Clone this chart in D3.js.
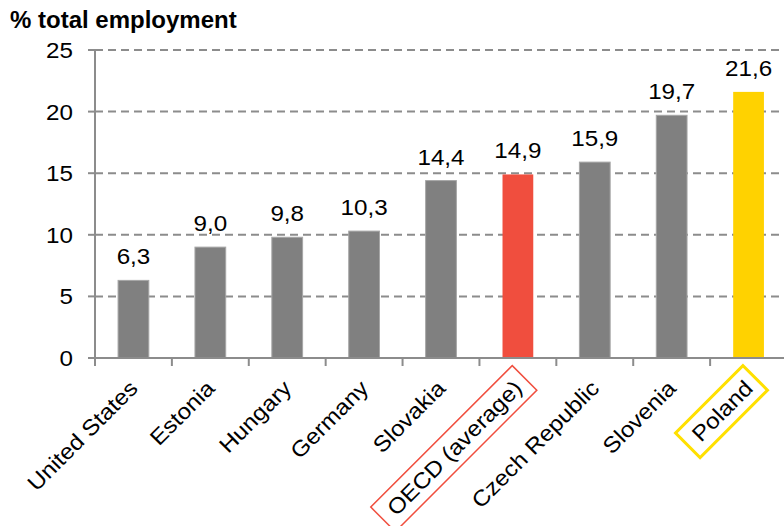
<!DOCTYPE html>
<html>
<head>
<meta charset="utf-8">
<script src="https://cdn.jsdelivr.net/npm/d3@7"></script>
<style>
body{margin:0;background:#fff;}
text{font-family:"Liberation Sans",Arial,sans-serif;}
</style>
</head>
<body>
<svg id="chart" width="784" height="526"></svg>
<script>
var countries = ['United States','Estonia','Hungary','Germany','Slovakia','OECD (average)','Czech Republic','Slovenia','Poland'];
var shares = [6.3, 9.0, 9.8, 10.3, 14.4, 14.9, 15.9, 19.7, 21.6];
var yTicks = [0, 5, 10, 15, 20, 25];
var highlight = {'OECD (average)':'#f04e3e', 'Poland':'#ffd200'};

var svg = d3.select('#chart');
var plotLeft = 95, plotBottom = 358, plotTop = 50, plotRight = 787;
var fs = 22, sx = 1.1;   // text in the original is a bit wider than Arial

var x = d3.scaleBand().domain(countries).range([plotLeft, plotRight]).paddingInner(0.6).paddingOuter(0.3);
var y = d3.scaleLinear().domain([0, 25]).range([plotBottom, plotTop]);
var step = x.step();

// grid
svg.append('g').selectAll('line').data(yTicks.filter(function(d){return d>0}))
  .enter().append('line')
  .attr('x1', plotLeft).attr('x2', 784)
  .attr('y1', function(d){return y(d)}).attr('y2', function(d){return y(d)})
  .attr('stroke', '#8c8c8c').attr('stroke-width', 2).attr('stroke-dasharray', '8,5');

// y ticks
svg.append('g').selectAll('text').data(yTicks).enter().append('text')
  .attr('transform', function(d){return 'translate(73,' + (y(d)+8) + ') scale(' + sx + ',1)'})
  .attr('text-anchor', 'end').attr('font-size', fs).attr('fill', '#000')
  .text(function(d){return d});
svg.append('g').selectAll('line').data(yTicks).enter().append('line')
  .attr('x1', 88).attr('x2', plotLeft)
  .attr('y1', function(d){return y(d)}).attr('y2', function(d){return y(d)})
  .attr('stroke', '#8c8c8c').attr('stroke-width', 2);

// bars
svg.append('g').selectAll('rect').data(countries).enter().append('rect')
  .attr('x', function(d){return x(d)})
  .attr('width', x.bandwidth())
  .attr('y', function(d,i){return y(shares[i])})
  .attr('height', function(d,i){return plotBottom - y(shares[i])})
  .attr('fill', function(d){return highlight[d] || '#808080'})
  .attr('stroke', function(d){return highlight[d] ? 'none' : '#a6a6a6'})
  .attr('stroke-width', 1);

// values
svg.append('g').selectAll('text').data(countries).enter().append('text')
  .attr('transform', function(d,i){return 'translate(' + (x(d)+x.bandwidth()/2) + ',' + (y(shares[i])-16) + ') scale(' + sx + ',1)'})
  .attr('text-anchor', 'middle').attr('font-size', fs).attr('fill', '#000')
  .text(function(d,i){return d3.format('.1f')(shares[i]).replace('.', ',')});

// axes
svg.append('line').attr('x1', plotLeft).attr('x2', plotLeft).attr('y1', plotTop).attr('y2', plotBottom+1)
  .attr('stroke', '#8c8c8c').attr('stroke-width', 2);
svg.append('line').attr('x1', plotLeft).attr('x2', 784).attr('y1', plotBottom).attr('y2', plotBottom)
  .attr('stroke', '#8c8c8c').attr('stroke-width', 2);
svg.append('g').selectAll('line').data(d3.range(countries.length+1)).enter().append('line')
  .attr('x1', function(i){return plotLeft + i*step}).attr('x2', function(i){return plotLeft + i*step})
  .attr('y1', plotBottom).attr('y2', plotBottom+8)
  .attr('stroke', '#8c8c8c').attr('stroke-width', 2);

// category labels
var lab = svg.append('g').selectAll('g').data(countries).enter().append('g')
  .attr('transform', function(d){return 'translate(' + (x(d)+x.bandwidth()/2) + ',' + 384 + ') rotate(-45)'});
lab.append('text')
  .attr('transform', 'scale(' + sx + ',1)')
  .attr('text-anchor', 'end').attr('font-size', fs).attr('fill', '#000')
  .attr('y', 8)
  .text(function(d){return d});
lab.each(function(d){
  if(!highlight[d]) return;
  var g = d3.select(this);
  var bb = g.select('text').node().getBBox();
  g.insert('rect', 'text')
    .attr('x', bb.x*sx-11).attr('y', bb.y-5)
    .attr('width', bb.width*sx+20).attr('height', bb.height+10)
    .attr('fill', 'none')
    .attr('stroke', d=='Poland' ? '#ffe000' : '#f04e3e')
    .attr('stroke-width', d=='Poland' ? 3 : 1.5);
});

// title
svg.append('text').attr('x', 10).attr('y', 28)
  .attr('font-size', 24).attr('font-weight', 'bold').attr('fill', '#000')
  .text('% total employment');
</script>
</body>
</html>
